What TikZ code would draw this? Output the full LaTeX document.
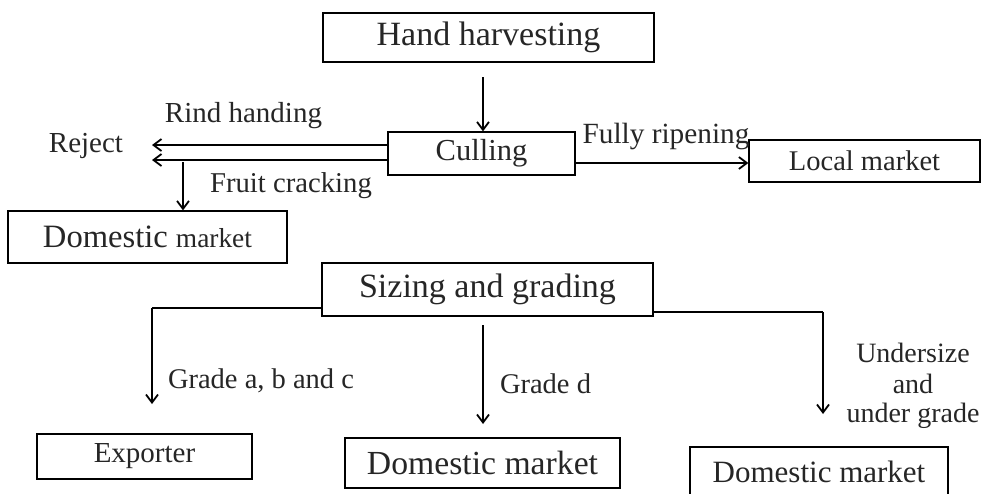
\documentclass[tikz,border=0pt]{standalone}
\usepackage{fontspec}
\setmainfont{Liberation Serif}
\usetikzlibrary{arrows.meta}
\newcommand{\fs}[1]{\fontsize{#1}{#1}\selectfont}
\begin{document}
\begin{tikzpicture}[x=1pt,y=-1pt,
  box/.style={draw, line width=1.2pt, inner sep=0pt, anchor=center, text=black!85},
  conn/.style={line width=1.8pt, -{Straight Barb[length=8pt,width=12pt,line width=1.8pt]}},
  plain/.style={line width=1.8pt},
  lbl/.style={inner sep=0pt, anchor=base, text=black!85}]
\useasboundingbox (0,0) rectangle (988,493);
\fill[white] (0,0) rectangle (988,493);
% boxes
\node[box, minimum width=331pt, minimum height=49pt] (hh) at (488.5,37.5) {\fs{34}Hand harvesting};
\node[box, minimum width=187pt, minimum height=43pt] (cull) at (481.5,153.5) {\fs{30.5}Culling};
\node[box, minimum width=279pt, minimum height=52pt] (dm1) at (147.5,237) {{\fs{32.6}Domestic}\hspace{8pt}{\fs{27.4}market}};
\node[box, minimum width=231pt, minimum height=42pt] (local) at (864.5,161) {\fs{28.5}Local market};
\node[box, minimum width=331pt, minimum height=53pt] (sg) at (487.5,289.5) {\fs{34}Sizing and grading};
\node[box, minimum width=215pt, minimum height=45pt] (exp) at (144.5,456.5) {\fs{29}Exporter};
\node[box, minimum width=275pt, minimum height=50pt] (dm2) at (482.5,463) {\fs{33.7}Domestic market};
\node[box, minimum width=258pt, minimum height=50pt] (dm3) at (819,472) {\fs{31}Domestic market};
% labels
\node[lbl] (reject) at (86,152) {\fs{29}Reject};
\node[lbl] (rind) at (243.5,122) {\fs{29}Rind handing};
\node[lbl] (fruit) at (291,192) {\fs{28.7}Fruit cracking};
\node[lbl] (fully) at (666,143) {\fs{29.3}Fully ripening};
\node[lbl] (gabc) at (261,388) {\fs{28.5}Grade a, b and c};
\node[lbl] (gd) at (545.5,393) {\fs{28.5}Grade d};
\node[lbl] (us1) at (913,362) {\fs{28}Undersize};
\node[lbl] (us2) at (913,393) {\fs{28}and};
\node[lbl] (us3) at (913,422) {\fs{28}under grade};
% coordinates
\coordinate (hs) at (483,77);
\coordinate (r1s) at (cull.west |- 0,145);
\coordinate (r2s) at (cull.west |- 0,160);
\coordinate (r1e) at (152,145);
\coordinate (r2e) at (152,160);
\coordinate (fcs) at (183,162);
\coordinate (ls) at (sg.west |- 0,308);
\coordinate (lc) at (152,308);
\coordinate (le) at (152,404);
\coordinate (rs) at (sg.east |- 0,312);
\coordinate (rc) at (823,312);
\coordinate (re) at (823,414);
\coordinate (ms) at (483,325);
\coordinate (me) at (483,424);
\coordinate (frs) at (cull.east |- 0,163);
% connectors
\draw[conn] (hs) -- (cull.north -| hs);
\draw[conn] (r1s) -- (r1e);
\draw[conn] (r2s) -- (r2e);
\draw[conn] (fcs) -- (dm1.north -| fcs);
\draw[conn] (frs) -- (local.west |- frs);
\draw[plain] (ls) -- (lc);
\draw[conn] (lc) -- (le);
\draw[plain] (rs) -- (rc);
\draw[conn] (rc) -- (re);
\draw[conn] (ms) -- (me);
\end{tikzpicture}
\end{document}
